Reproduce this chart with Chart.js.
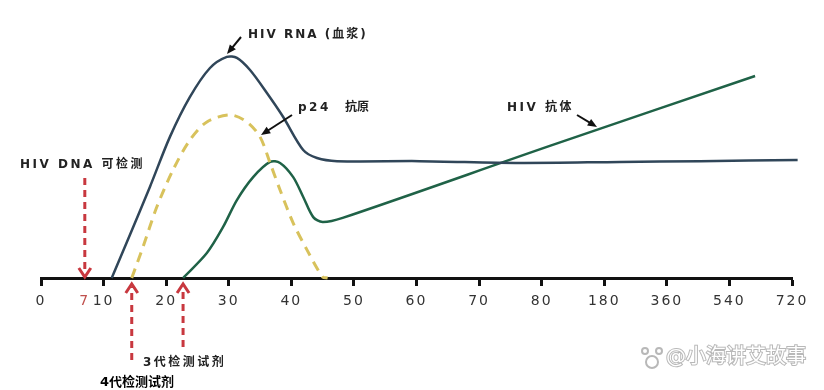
<!DOCTYPE html>
<html>
<head>
<meta charset="utf-8">
<script src="https://cdn.jsdelivr.net/npm/chart.js@4"></script>
<style>
  body { margin: 0; background: #fff; }
  #wrap { width: 824px; height: 390px; }
</style>
</head>
<body>
<div id="wrap"><canvas id="hivChart" width="824" height="390"></canvas></div>
<script>
// axis positions (one step per tick) and their labels
var tickPositions = [0, 0.7, 1, 2, 3, 4, 5, 6, 7, 8, 9, 10, 11, 12];
var tickLabels = ['0', '7', '10', '20', '30', '40', '50', '60', '70', '80', '180', '360', '540', '720'];

// HIV RNA (plasma) - relative level 0..100
var rnaX = [1.13, 1.42, 1.74, 2.06, 2.38, 2.70, 2.97, 3.13, 3.34, 3.61, 3.87, 4.19, 4.41, 4.73, 6.05, 7.65, 9.25, 10.53, 12.09];
var rnaY = [0, 16.7, 35.3, 54.7, 70.2, 81.4, 85.7, 85.3, 80.6, 71.7, 62.4, 49.6, 46.5, 45.3, 45.3, 44.6, 45.0, 45.3, 45.7];

// p24 antigen
var p24X = [1.45, 1.63, 1.85, 2.11, 2.38, 2.65, 3.02, 3.29, 3.50, 3.66, 3.82, 4.03, 4.25, 4.50, 4.58];
var p24Y = [0, 12.0, 27.5, 41.9, 53.5, 60.5, 63.2, 60.5, 54.7, 44.6, 34.1, 21.3, 10.9, 0.4, 0];

// HIV antibody
var abX = [2.27, 2.65, 2.91, 3.13, 3.39, 3.66, 3.82, 4.03, 4.19, 4.35, 4.50, 4.82, 8.13, 11.41];
var abY = [0, 9.7, 19.8, 30.2, 39.1, 45.0, 44.6, 39.1, 31.4, 23.6, 21.7, 23.3, 51.2, 78.3];

// detection markers on the axis
var dnaDetect = 0.7;
var gen3Start = 1.45;
var gen4Start = 2.27;

function toPoints(xs, ys) {
  var pts = [];
  for (var i = 0; i < xs.length; i++) {
    pts.push({ x: xs[i], y: ys[i] });
  }
  return pts;
}

var CN = "'DejaVu Sans', 'Noto Sans CJK SC', sans-serif";

function spacedText(ctx, text, x, y, font, color, spacing) {
  ctx.save();
  ctx.font = font;
  ctx.fillStyle = color;
  ctx.textAlign = 'left';
  ctx.textBaseline = 'middle';
  ctx.letterSpacing = spacing + 'px';
  ctx.fillText(text, x, y);
  ctx.restore();
}

function blackArrow(ctx, x1, y1, x2, y2) {
  var a = Math.atan2(y2 - y1, x2 - x1);
  ctx.save();
  ctx.strokeStyle = '#111';
  ctx.fillStyle = '#111';
  ctx.lineWidth = 2;
  ctx.beginPath();
  ctx.moveTo(x1, y1);
  ctx.lineTo(x2 - 6 * Math.cos(a), y2 - 6 * Math.sin(a));
  ctx.stroke();
  ctx.beginPath();
  ctx.moveTo(x2, y2);
  ctx.lineTo(x2 - 10 * Math.cos(a - 0.4), y2 - 10 * Math.sin(a - 0.4));
  ctx.lineTo(x2 - 10 * Math.cos(a + 0.4), y2 - 10 * Math.sin(a + 0.4));
  ctx.closePath();
  ctx.fill();
  ctx.restore();
}

function redArrow(ctx, x, tail, tip) {
  var dir = tip > tail ? 1 : -1;
  ctx.save();
  ctx.strokeStyle = '#c8383f';
  ctx.lineWidth = 3;
  ctx.setLineDash([7, 5]);
  ctx.beginPath();
  ctx.moveTo(x, tail);
  ctx.lineTo(x, tip - dir * 3);
  ctx.stroke();
  ctx.setLineDash([]);
  ctx.beginPath();
  ctx.moveTo(x - 6, tip - dir * 9);
  ctx.lineTo(x, tip);
  ctx.lineTo(x + 6, tip - dir * 9);
  ctx.stroke();
  ctx.restore();
}

var labelsPlugin = {
  id: 'labels',
  beforeDraw: function(chart) {
    chart.ctx.letterSpacing = '2px';
  },
  afterDraw: function(chart) {
    var ctx = chart.ctx;
    var xs = chart.scales.x;
    var base = chart.chartArea.bottom;
    ctx.letterSpacing = '0px';

    spacedText(ctx, 'HIV RNA (血浆)', 248, 35, 'bold 12px ' + CN, '#222', 2);
    spacedText(ctx, 'p24', 298, 108, 'bold 12px ' + CN, '#222', 2.5);
    spacedText(ctx, '抗原', 345, 108, 'bold 12px ' + CN, '#222', 0);
    spacedText(ctx, 'HIV DNA 可检测', 20, 165, 'bold 12px ' + CN, '#222', 2.5);
    spacedText(ctx, 'HIV 抗体', 507, 108, 'bold 12px ' + CN, '#222', 2.5);
    spacedText(ctx, '3代检测试剂', 143, 363, 'bold 12px ' + CN, '#222', 2.5);
    spacedText(ctx, '4代检测试剂', 100, 383, 'bold 13px ' + CN, '#000', 0);

    blackArrow(ctx, 241, 37, 227, 54);
    blackArrow(ctx, 292, 115, 261, 135);
    blackArrow(ctx, 577, 115, 597, 127);

    redArrow(ctx, xs.getPixelForValue(dnaDetect), 178, base - 1);
    redArrow(ctx, xs.getPixelForValue(gen3Start), 360, base + 6);
    redArrow(ctx, xs.getPixelForValue(gen4Start), 347, base + 6);

    // watermark
    ctx.save();
    ctx.font = '20px ' + CN;
    ctx.textBaseline = 'middle';
    ctx.lineWidth = 2;
    ctx.strokeStyle = '#b8b8b8';
    ctx.fillStyle = '#ffffff';
    ctx.strokeText('@小海讲艾故事', 666, 358);
    ctx.fillText('@小海讲艾故事', 666, 358);
    ctx.beginPath();
    ctx.arc(652, 362, 6, 0, Math.PI * 2);
    ctx.moveTo(648, 351); ctx.arc(645, 351, 3, 0, Math.PI * 2);
    ctx.moveTo(662, 351); ctx.arc(659, 351, 3, 0, Math.PI * 2);
    ctx.stroke();
    ctx.restore();
  }
};

var ctx = document.getElementById('hivChart').getContext('2d');
var chart = new Chart(ctx, {
  type: 'line',
  data: {
    datasets: [
      {
        label: 'HIV RNA',
        data: toPoints(rnaX, rnaY),
        borderColor: '#304659',
        borderWidth: 2.5,
        clip: false
      },
      {
        label: 'p24',
        data: toPoints(p24X, p24Y),
        borderColor: '#d8c25c',
        borderWidth: 3,
        borderDash: [10, 7],
        clip: false
      },
      {
        label: 'HIV antibody',
        data: toPoints(abX, abY),
        borderColor: '#1f6247',
        borderWidth: 2.5,
        clip: false
      }
    ]
  },
  options: {
    responsive: false,
    animation: false,
    elements: {
      point: { radius: 0 },
      line: { tension: 0.3 }
    },
    layout: { padding: { left: 41, right: 32, top: 20, bottom: 0 } },
    plugins: {
      legend: { display: false },
      tooltip: { enabled: false }
    },
    scales: {
      x: {
        type: 'linear',
        min: 0,
        max: 12,
        afterBuildTicks: function(scale) {
          scale.ticks = tickPositions.map(function(v) { return { value: v }; });
        },
        afterFit: function(scale) {
          scale.height = 112;
        },
        border: { color: '#111', width: 3 },
        grid: {
          drawOnChartArea: false,
          drawTicks: true,
          tickLength: 8,
          tickWidth: 3,
          tickColor: function(c) {
            return c.tick && c.tick.value === dnaDetect ? 'rgba(0,0,0,0)' : '#111';
          }
        },
        ticks: {
          autoSkip: false,
          maxRotation: 0,
          padding: 7,
          font: { family: 'DejaVu Sans', size: 14 },
          color: function(c) {
            return c.tick && c.tick.value === dnaDetect ? '#c0504d' : '#333';
          },
          callback: function(value, index) {
            return tickLabels[index];
          }
        }
      },
      y: {
        display: false,
        min: 0,
        max: 100
      }
    }
  },
  plugins: [labelsPlugin]
});
</script>
</body>
</html>
